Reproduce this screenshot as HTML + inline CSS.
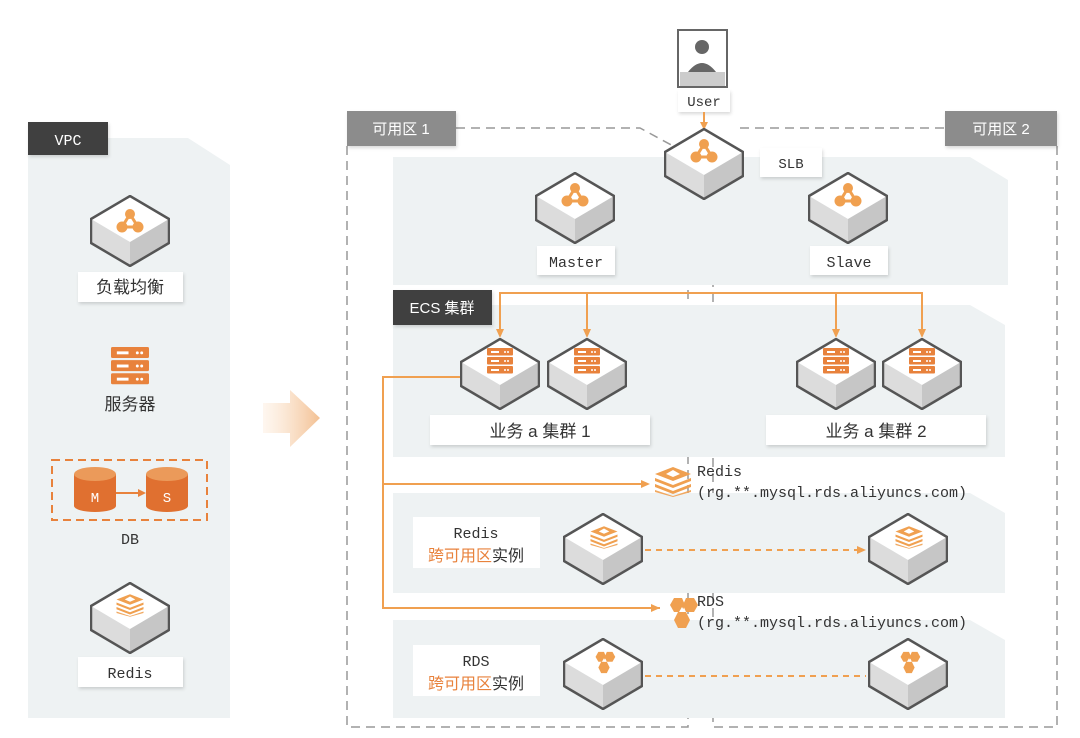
<!DOCTYPE html>
<html><head><meta charset="utf-8"><style>
body{margin:0;background:#fff}
svg{display:block}
text{font-family:"Liberation Mono","Noto Sans CJK SC",monospace;fill:#333}
.cn{font-family:"Liberation Sans","Noto Sans CJK SC",sans-serif}
</style></head><body>
<svg width="1080" height="738" viewBox="0 0 1080 738" xmlns="http://www.w3.org/2000/svg">
<defs>
<symbol id="cube" viewBox="0 0 80 72" width="80" height="72">
<polygon points="40,1 79,24 40,47 1,24" fill="#fff"/>
<polygon points="1,24 40,47 40,71 1,48" fill="#dcdcdc"/>
<polygon points="79,24 40,47 40,71 79,48" fill="#c6c6c6"/>
<polygon points="40,1 79,24 79,48 40,71 1,48 1,24" fill="none" stroke="#555" stroke-width="2.5" stroke-linejoin="round"/>
</symbol>
<symbol id="slb" viewBox="0 0 30 26" width="30" height="26">
<line x1="15" y1="6" x2="7" y2="19" stroke="#f0a050" stroke-width="3"/><line x1="15" y1="6" x2="23" y2="19" stroke="#f0a050" stroke-width="3"/><line x1="7" y1="19" x2="23" y2="19" stroke="#f0a050" stroke-width="3"/>
<circle cx="15" cy="6" r="5" fill="#f0a050"/><circle cx="7" cy="19" r="5.5" fill="#f0a050"/><circle cx="23" cy="19" r="5.5" fill="#f0a050"/>
</symbol>
<symbol id="srv" viewBox="0 0 26 26" width="26" height="26">
<rect x="0" y="0" width="26" height="7.5" rx="1" fill="#e8823c"/><rect x="0" y="9" width="26" height="7.5" rx="1" fill="#e8823c"/><rect x="0" y="18" width="26" height="7.5" rx="1" fill="#e8823c"/>
<g fill="#fff"><rect x="4" y="3" width="8" height="2"/><rect x="4" y="12" width="8" height="2"/><rect x="4" y="21" width="8" height="2"/><circle cx="18" cy="4" r="1"/><circle cx="21" cy="4" r="1"/><circle cx="18" cy="13" r="1"/><circle cx="21" cy="13" r="1"/><circle cx="18" cy="22" r="1"/><circle cx="21" cy="22" r="1"/></g>
</symbol>
<symbol id="redis" viewBox="0 0 40 30" width="40" height="30">
<g fill="#f0a050"><polygon points="20,0 38,7 20,14 2,7"/><polygon points="2,11 20,18 38,11 38,14 20,21 2,14"/><polygon points="2,17 20,24 38,17 38,20 20,27 2,20"/><polygon points="2,23 20,29 38,23 38,25 20,30 2,25" opacity=".9"/></g>
<polygon points="20,3 27,7 20,10 13,7" fill="#fff"/>
</symbol>
<symbol id="rds" viewBox="0 0 34 32" width="34" height="32">
<g fill="#f0a050"><polygon points="9,1 17,1 20,8 17,15 9,15 5,8"/><polygon points="21,1 29,1 33,8 29,15 21,15 18,8"/><polygon points="13,15 21,15 25,23 21,31 13,31 9,23"/></g>
<polygon points="17,10 20,15 14,15" fill="#fff"/>
</symbol>
<linearGradient id="ag" x1="0" x2="1"><stop offset="0" stop-color="#fbe3cc" stop-opacity=".3"/><stop offset="1" stop-color="#f3c092"/></linearGradient>
<filter id="sh" x="-10%" y="-10%" width="130%" height="140%"><feDropShadow dx="1" dy="2" stdDeviation="1.5" flood-color="#000" flood-opacity=".15"/></filter>
</defs>

<!-- VPC panel -->
<polygon points="28,138 188,138 230,165 230,718 28,718" fill="#eef2f3"/>
<rect x="28" y="122" width="80" height="33" fill="#3f3f3f" filter="url(#sh)"/>
<text x="68" y="145" text-anchor="middle" font-size="15" style="fill:#fff">VPC</text>
<use href="#cube" x="90" y="195"/><use href="#slb" x="115" y="208"/>
<rect x="78" y="272" width="105" height="30" fill="#fff" filter="url(#sh)"/>
<text x="130" y="293" text-anchor="middle" font-size="17" class="cn">负载均衡</text>
<use href="#srv" x="111" y="346" width="38" height="40"/>
<text x="130" y="410" text-anchor="middle" font-size="17" class="cn">服务器</text>
<rect x="52" y="460" width="155" height="60" fill="none" stroke="#e8823c" stroke-width="2" stroke-dasharray="8,5"/>
<g>
<rect x="74" y="474" width="42" height="32" fill="#e07030"/><ellipse cx="95" cy="506" rx="21" ry="6" fill="#e07030"/><ellipse cx="95" cy="474" rx="21" ry="7" fill="#eb9a5a"/>
<rect x="146" y="474" width="42" height="32" fill="#e07030"/><ellipse cx="167" cy="506" rx="21" ry="6" fill="#e07030"/><ellipse cx="167" cy="474" rx="21" ry="7" fill="#eb9a5a"/>
<line x1="116" y1="493" x2="140" y2="493" stroke="#e8823c" stroke-width="2"/><polygon points="146,493 138,489 138,497" fill="#e8823c"/>
<text x="95" y="502" text-anchor="middle" font-size="14" style="fill:#fff">M</text>
<text x="167" y="502" text-anchor="middle" font-size="14" style="fill:#fff">S</text>
</g>
<text x="130" y="544" text-anchor="middle" font-size="15">DB</text>
<use href="#cube" x="90" y="582"/><use href="#redis" x="115" y="594" width="30" height="23"/>
<rect x="78" y="657" width="105" height="30" fill="#fff" filter="url(#sh)"/>
<text x="130" y="678" text-anchor="middle" font-size="15">Redis</text>

<!-- big arrow -->
<polygon points="263,403 290,403 290,390 320,418 290,447 290,433 263,433" fill="url(#ag)"/>

<!-- zones dashed -->
<g fill="none" stroke="#999" stroke-width="1.5" stroke-dasharray="9,6">
<polyline points="456,128 640,128 675,147"/>
<polyline points="347,146 347,727 688,727 688,290"/>
<polyline points="740,128 945,128"/>
<polyline points="1057,146 1057,727 713,727 713,285"/>
</g>

<!-- panels -->
<polygon points="393,157 970,157 1008,180 1008,285 393,285" fill="#eef2f3"/>
<polygon points="393,305 970,305 1005,325 1005,457 393,457" fill="#eef2f3"/>
<polygon points="393,493 970,493 1005,513 1005,593 393,593" fill="#eef2f3"/>
<polygon points="393,620 970,620 1005,640 1005,718 393,718" fill="#eef2f3"/>

<rect x="347" y="111" width="109" height="35" fill="#8c8c8c" filter="url(#sh)"/>
<text x="401" y="134" text-anchor="middle" font-size="15" class="cn" style="fill:#fff">可用区 1</text>
<rect x="945" y="111" width="112" height="35" fill="#8c8c8c" filter="url(#sh)"/>
<text x="1001" y="134" text-anchor="middle" font-size="15" class="cn" style="fill:#fff">可用区 2</text>

<!-- user -->
<rect x="678" y="30" width="49" height="57" fill="#fff" stroke="#666" stroke-width="2"/>
<circle cx="702" cy="47" r="7" fill="#666"/><path d="M688,72 Q702,54 716,72 Z" fill="#666"/>
<rect x="680" y="72" width="45" height="14" fill="#ccc"/>
<rect x="678" y="90" width="52" height="22" fill="#fff" filter="url(#sh)"/>
<text x="704" y="106" text-anchor="middle" font-size="14">User</text>
<line x1="704" y1="112" x2="704" y2="124" stroke="#f0a050" stroke-width="2"/><polygon points="704,130 700,122 708,122" fill="#f0a050"/>

<!-- SLB -->
<use href="#cube" x="664" y="128"/><use href="#slb" x="689" y="138"/>
<rect x="760" y="148" width="62" height="29" fill="#fff" filter="url(#sh)"/>
<text x="791" y="168" text-anchor="middle" font-size="14">SLB</text>
<use href="#cube" x="535" y="172"/><use href="#slb" x="560" y="182"/>
<rect x="537" y="246" width="78" height="29" fill="#fff" filter="url(#sh)"/>
<text x="576" y="267" text-anchor="middle" font-size="15">Master</text>
<use href="#cube" x="808" y="172"/><use href="#slb" x="833" y="182"/>
<rect x="810" y="246" width="78" height="29" fill="#fff" filter="url(#sh)"/>
<text x="849" y="267" text-anchor="middle" font-size="15">Slave</text>

<!-- ECS -->
<g stroke="#f0a050" stroke-width="2" fill="none">
<polyline points="500,330 500,293 922,293 922,330"/>
<line x1="587" y1="293" x2="587" y2="330"/><line x1="836" y1="293" x2="836" y2="330"/>
<polyline points="460,377 383,377 383,608 660,608"/>
<line x1="383" y1="484" x2="642" y2="484"/>
</g>
<g fill="#f0a050">
<polygon points="500,338 496,329 504,329"/><polygon points="587,338 583,329 591,329"/><polygon points="836,338 832,329 840,329"/><polygon points="922,338 918,329 926,329"/>
<polygon points="650,484 641,480 641,488"/><polygon points="660,608 651,604 651,612"/>
</g>
<rect x="393" y="290" width="99" height="35" fill="#3f3f3f" filter="url(#sh)"/>
<text x="442" y="313" text-anchor="middle" font-size="15" class="cn" style="fill:#fff">ECS 集群</text>
<use href="#cube" x="460" y="338"/><use href="#srv" x="487" y="348"/>
<use href="#cube" x="547" y="338"/><use href="#srv" x="574" y="348"/>
<use href="#cube" x="796" y="338"/><use href="#srv" x="823" y="348"/>
<use href="#cube" x="882" y="338"/><use href="#srv" x="909" y="348"/>
<rect x="430" y="415" width="220" height="30" fill="#fff" filter="url(#sh)"/>
<text x="540" y="437" text-anchor="middle" font-size="17" class="cn">业务 a 集群 1</text>
<rect x="766" y="415" width="220" height="30" fill="#fff" filter="url(#sh)"/>
<text x="876" y="437" text-anchor="middle" font-size="17" class="cn">业务 a 集群 2</text>

<!-- Redis -->
<use href="#redis" x="653" y="467"/>
<text x="697" y="476" font-size="15">Redis</text>
<text x="697" y="497" font-size="15">(rg.**.mysql.rds.aliyuncs.com)</text>
<rect x="413" y="517" width="127" height="51" fill="#fff"/>
<text x="476" y="538" text-anchor="middle" font-size="15">Redis</text>
<text x="476" y="561" text-anchor="middle" font-size="16" class="cn"><tspan style="fill:#e8823c">跨可用区</tspan>实例</text>
<use href="#cube" x="563" y="513"/><use href="#redis" x="589" y="526" width="30" height="23"/>
<use href="#cube" x="868" y="513"/><use href="#redis" x="894" y="526" width="30" height="23"/>
<line x1="645" y1="550" x2="858" y2="550" stroke="#f0a050" stroke-width="2" stroke-dasharray="6,5"/>
<polygon points="866,550 857,546 857,554" fill="#f0a050"/>

<!-- RDS -->
<use href="#rds" x="665" y="597"/>
<text x="697" y="606" font-size="15">RDS</text>
<text x="697" y="627" font-size="15">(rg.**.mysql.rds.aliyuncs.com)</text>
<rect x="413" y="645" width="127" height="51" fill="#fff"/>
<text x="476" y="666" text-anchor="middle" font-size="15">RDS</text>
<text x="476" y="689" text-anchor="middle" font-size="16" class="cn"><tspan style="fill:#e8823c">跨可用区</tspan>实例</text>
<use href="#cube" x="563" y="638"/><use href="#rds" x="592" y="651" width="24" height="23"/>
<use href="#cube" x="868" y="638"/><use href="#rds" x="897" y="651" width="24" height="23"/>
<line x1="645" y1="676" x2="866" y2="676" stroke="#f0a050" stroke-width="2" stroke-dasharray="6,5"/>
</svg>
</body></html>
